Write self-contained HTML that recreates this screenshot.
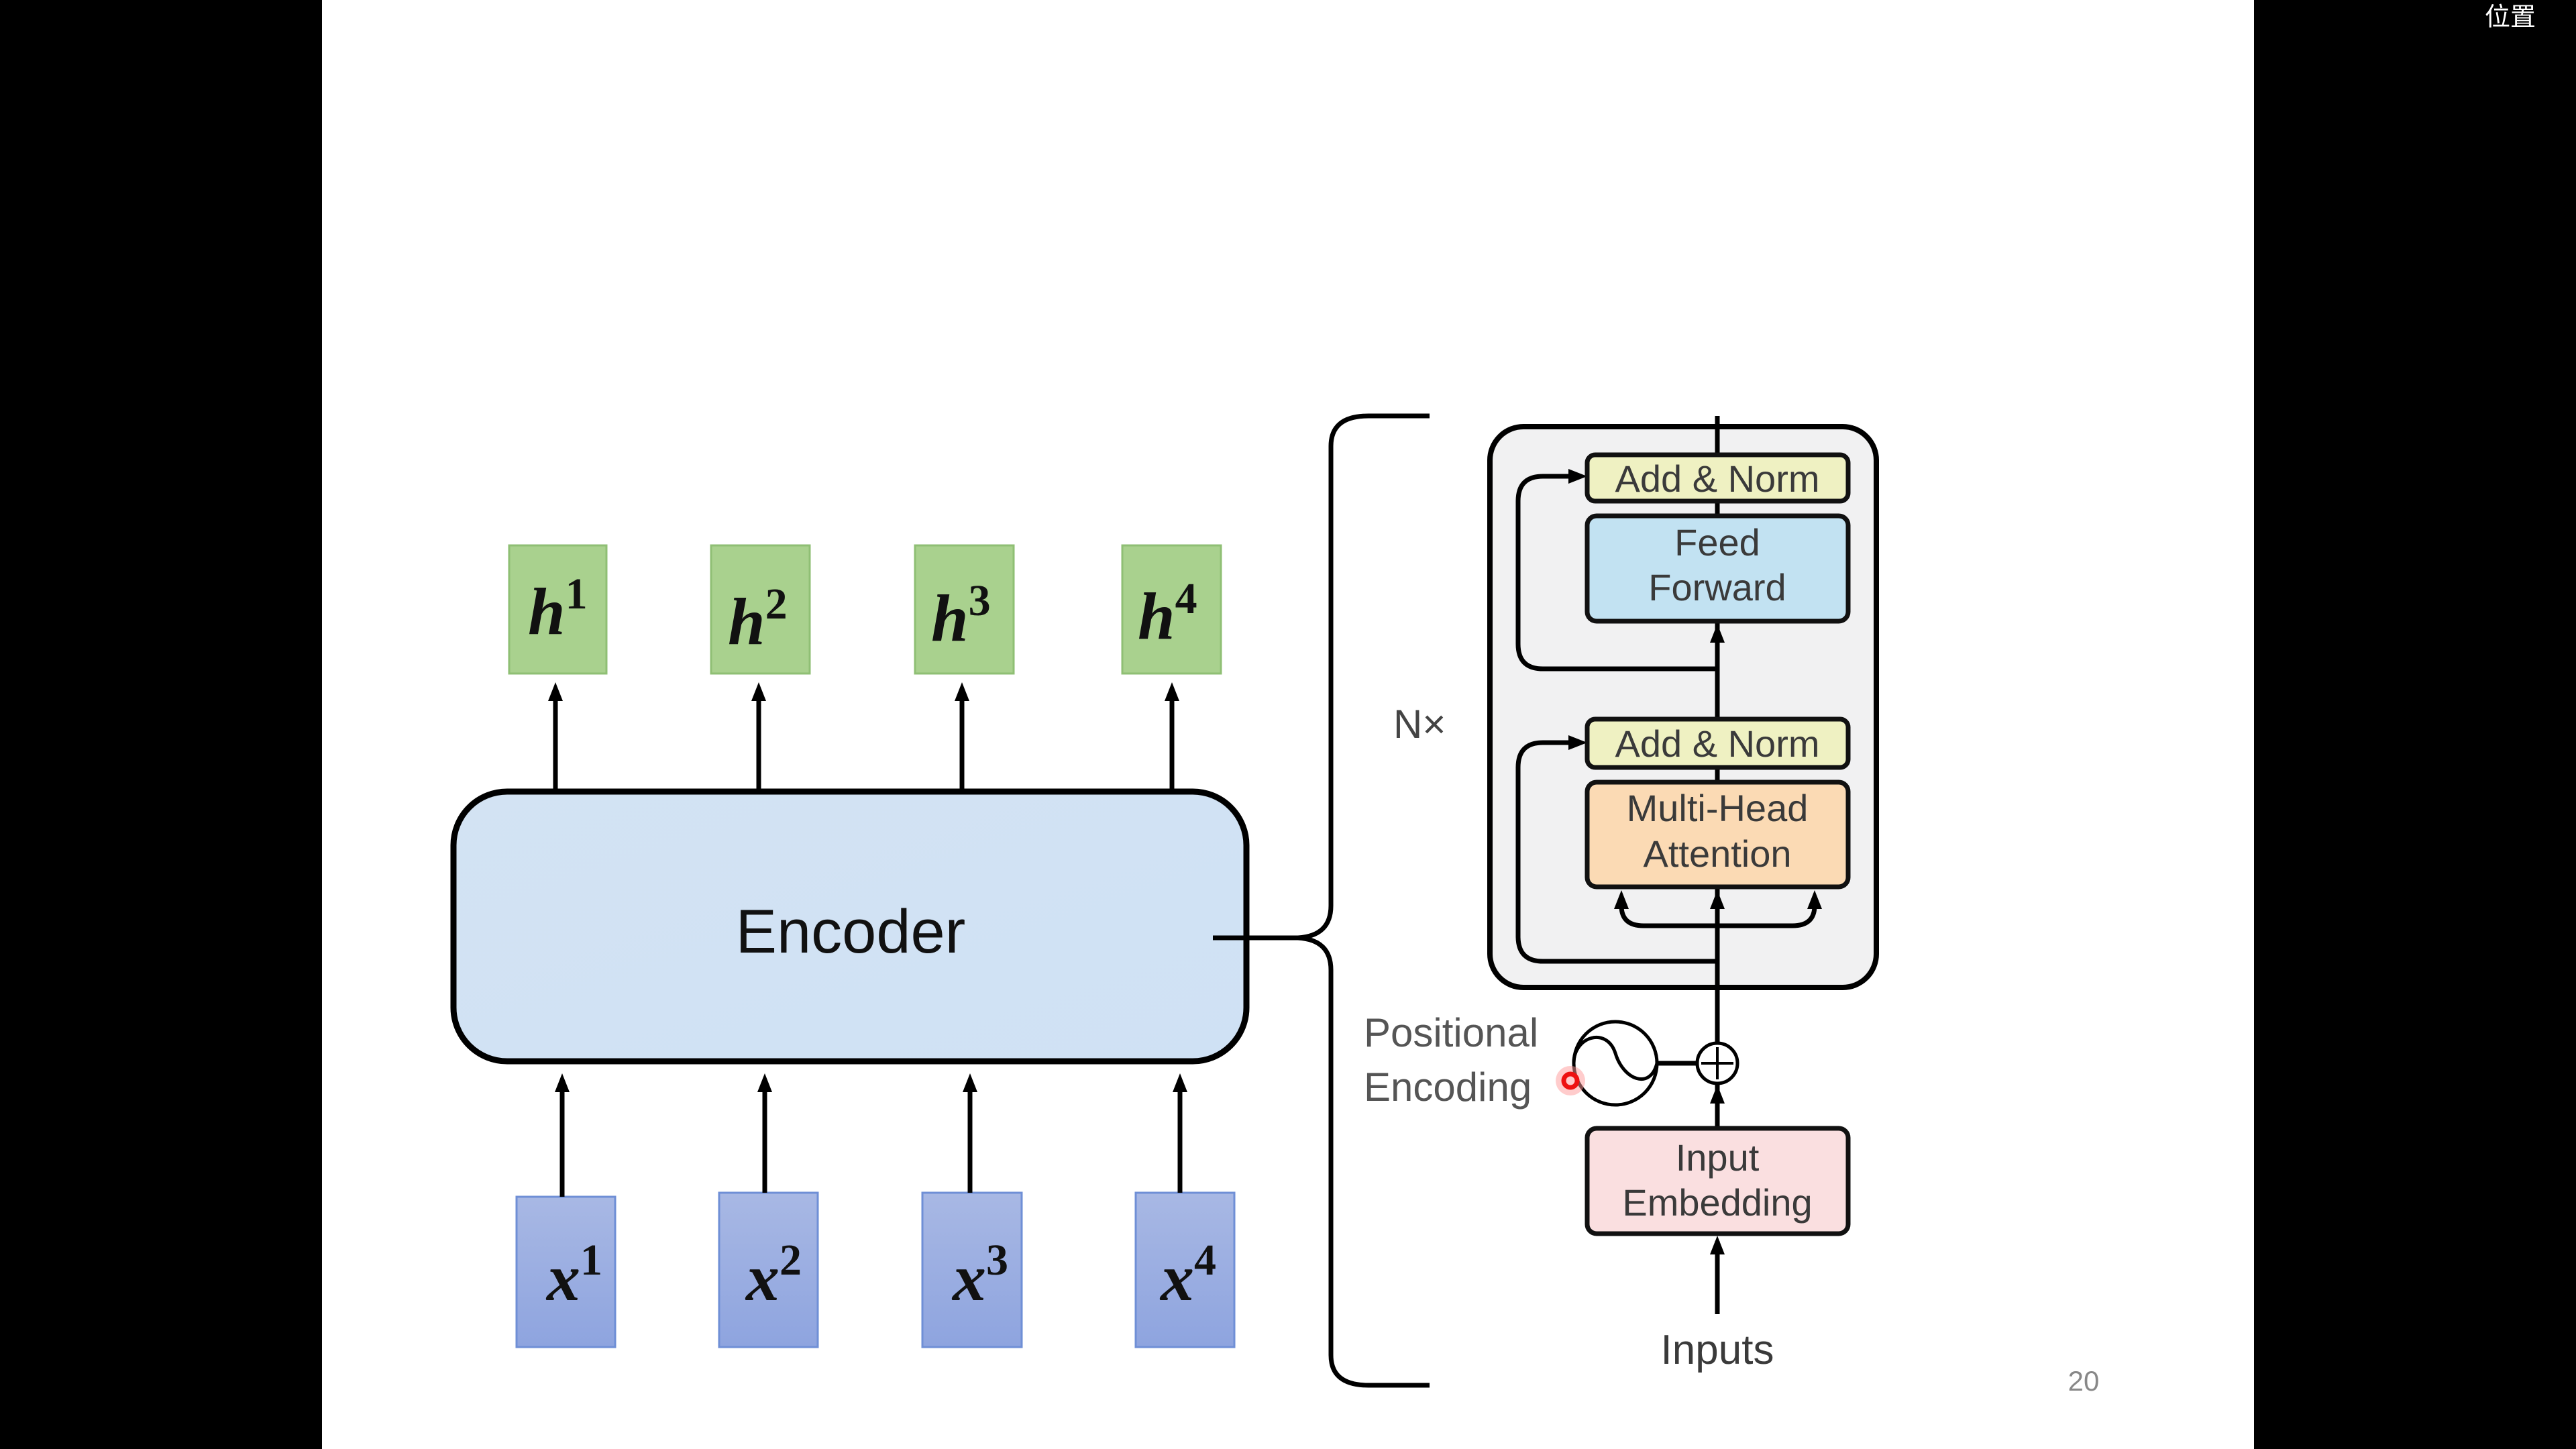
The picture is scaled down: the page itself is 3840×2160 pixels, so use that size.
<!DOCTYPE html>
<html><head><meta charset="utf-8"><style>
html,body{margin:0;padding:0;background:#000;}
body{width:3840px;height:2160px;overflow:hidden;position:relative;}
svg{position:absolute;left:0;top:0;}
</style></head><body>
<svg width="3840" height="2160" viewBox="0 0 3840 2160" xmlns="http://www.w3.org/2000/svg">
<defs>
<linearGradient id="enc" x1="0" y1="0" x2="1" y2="1"><stop offset="0" stop-color="#d3e3f3"/><stop offset="1" stop-color="#cfe1f4"/></linearGradient>
<linearGradient id="xg" x1="0" y1="0" x2="0" y2="1"><stop offset="0" stop-color="#a8b8e4"/><stop offset="1" stop-color="#8ea4df"/></linearGradient>
</defs>
<rect x="0" y="0" width="3840" height="2160" fill="#000"/>
<rect x="480" y="0" width="2880" height="2160" fill="#fff"/>
<text x="3742" y="38" font-family="'Liberation Sans','Noto Sans CJK SC',sans-serif" font-size="38" fill="#fff" text-anchor="middle">位置</text>

<g fill="#a9d18e" stroke="#8fbf74" stroke-width="3">
<rect x="759" y="813" width="145" height="191"/>
<rect x="1060" y="813" width="147" height="191"/>
<rect x="1364" y="813" width="147" height="191"/>
<rect x="1673" y="813" width="147" height="191"/>
</g>
<g font-family="'Liberation Serif',serif" font-weight="bold" font-style="italic" fill="#111" font-size="100">
<text x="787" y="945">h<tspan font-size="66" font-style="normal" dy="-38">1</tspan></text>
<text x="1085" y="960">h<tspan font-size="66" font-style="normal" dy="-38">2</tspan></text>
<text x="1388" y="955">h<tspan font-size="66" font-style="normal" dy="-38">3</tspan></text>
<text x="1696" y="952">h<tspan font-size="66" font-style="normal" dy="-38">4</tspan></text>
</g>

<g fill="url(#xg)" stroke="#6f8fd6" stroke-width="3">
<rect x="770" y="1784" width="147" height="224"/>
<rect x="1072" y="1778" width="147" height="230"/>
<rect x="1375" y="1778" width="148" height="230"/>
<rect x="1693" y="1778" width="147" height="230"/>
</g>
<g font-family="'Liberation Serif',serif" font-weight="bold" font-style="italic" fill="#111" font-size="100">
<text x="815" y="1938">x<tspan font-size="66" font-style="normal" dy="-38">1</tspan></text>
<text x="1112" y="1938">x<tspan font-size="66" font-style="normal" dy="-38">2</tspan></text>
<text x="1420" y="1938">x<tspan font-size="66" font-style="normal" dy="-38">3</tspan></text>
<text x="1730" y="1938">x<tspan font-size="66" font-style="normal" dy="-38">4</tspan></text>
</g>

<rect x="676" y="1180" width="1182" height="402" rx="80" fill="url(#enc)" stroke="#000" stroke-width="9"/>
<text x="1268" y="1420" font-family="'Liberation Sans',sans-serif" font-size="92" fill="#111" text-anchor="middle">Encoder</text>

<g stroke="#000" stroke-width="7">
<line x1="828" y1="1176" x2="828" y2="1040"/>
<line x1="1131" y1="1176" x2="1131" y2="1040"/>
<line x1="1434" y1="1176" x2="1434" y2="1040"/>
<line x1="1747" y1="1176" x2="1747" y2="1040"/>
<line x1="838" y1="1784" x2="838" y2="1625"/>
<line x1="1140" y1="1778" x2="1140" y2="1625"/>
<line x1="1446" y1="1778" x2="1446" y2="1625"/>
<line x1="1759" y1="1778" x2="1759" y2="1625"/>
</g>
<g fill="#000">
<polygon points="828,1017 817,1045 839,1045"/>
<polygon points="1131,1017 1120,1045 1142,1045"/>
<polygon points="1434,1017 1423,1045 1445,1045"/>
<polygon points="1747,1017 1736,1045 1758,1045"/>
<polygon points="838,1600 827,1628 849,1628"/>
<polygon points="1140,1600 1129,1628 1151,1628"/>
<polygon points="1446,1600 1435,1628 1457,1628"/>
<polygon points="1759,1600 1748,1628 1770,1628"/>
</g>

<path d="M1808,1398 L1935,1398 Q1984,1395 1984,1350 L1984,665 Q1984,620 2040,620 L2131,620" fill="none" stroke="#000" stroke-width="7"/>
<path d="M1935,1398 Q1984,1401 1984,1446 L1984,2020 Q1984,2065 2040,2065 L2131,2065" fill="none" stroke="#000" stroke-width="7"/>
<text x="2077" y="1100" font-family="'Liberation Sans',sans-serif" font-size="60" fill="#444">N×</text>

<rect x="2221" y="636" width="576" height="836" rx="50" fill="#f1f1f2" stroke="#000" stroke-width="8"/>
<g stroke="#000" stroke-width="7" fill="none">
<line x1="2560" y1="620" x2="2560" y2="1682"/>
<path d="M2560,997 L2300,997 Q2263,997 2263,960 L2263,747 Q2263,710 2300,710 L2345,710"/>
<path d="M2560,1433 L2300,1433 Q2263,1433 2263,1396 L2263,1144 Q2263,1107 2300,1107 L2345,1107"/>
<path d="M2417,1345 L2417,1350 Q2417,1380 2450,1380 L2672,1380 Q2705,1380 2705,1350 L2705,1345"/>
<line x1="2560" y1="1959" x2="2560" y2="1850"/>
<line x1="2470" y1="1585" x2="2530" y2="1585"/>
</g>
<g fill="#000">
<polygon points="2366,710 2338,699 2338,721"/>
<polygon points="2366,1107 2338,1096 2338,1118"/>
<polygon points="2560,930 2549,958 2571,958"/>
<polygon points="2560,1327 2549,1355 2571,1355"/>
<polygon points="2417,1327 2406,1355 2428,1355"/>
<polygon points="2705,1327 2694,1355 2716,1355"/>
<polygon points="2560,1617 2549,1645 2571,1645"/>
<polygon points="2560,1842 2549,1870 2571,1870"/>
</g>
<g stroke="#111" stroke-width="7">
<rect x="2366" y="678" width="389" height="69" rx="12" fill="#eff1c2"/>
<rect x="2366" y="769" width="389" height="157" rx="14" fill="#c2e2f2"/>
<rect x="2366" y="1072" width="389" height="72" rx="12" fill="#eff1c2"/>
<rect x="2366" y="1166" width="389" height="156" rx="14" fill="#fbdab4"/>
<rect x="2366" y="1682" width="389" height="157" rx="14" fill="#fadfe0"/>
</g>
<g font-family="'Liberation Sans',sans-serif" font-size="56" fill="#3a3a3a" text-anchor="middle">
<text x="2560" y="733">Add &amp; Norm</text>
<text x="2560" y="828">Feed</text>
<text x="2560" y="895">Forward</text>
<text x="2560" y="1128">Add &amp; Norm</text>
<text x="2560" y="1224">Multi-Head</text>
<text x="2560" y="1292">Attention</text>
<text x="2560" y="1745">Input</text>
<text x="2560" y="1812">Embedding</text>
<text x="2560" y="2033" font-size="62">Inputs</text>
</g>
<g font-family="'Liberation Sans',sans-serif" font-size="60" fill="#555">
<text x="2033" y="1560">Positional</text>
<text x="2033" y="1641">Encoding</text>
</g>
<circle cx="2408" cy="1585" r="62" fill="#fff" stroke="#000" stroke-width="5"/>
<path d="M2346,1585 C2346,1545 2395,1530 2408,1570 C2420,1610 2460,1625 2470,1585" fill="none" stroke="#000" stroke-width="5"/>
<circle cx="2560" cy="1585" r="30" fill="#fff" stroke="#000" stroke-width="5"/>
<line x1="2536" y1="1585" x2="2584" y2="1585" stroke="#000" stroke-width="4"/>
<line x1="2560" y1="1561" x2="2560" y2="1609" stroke="#000" stroke-width="4"/>
<circle cx="2341" cy="1611" r="22" fill="#ff9999" opacity="0.5"/>
<circle cx="2341" cy="1611" r="10" fill="none" stroke="#ee1111" stroke-width="7"/>

<text x="3106" y="2073" font-family="'Liberation Sans',sans-serif" font-size="42" fill="#888" text-anchor="middle">20</text>
</svg>
</body></html>
